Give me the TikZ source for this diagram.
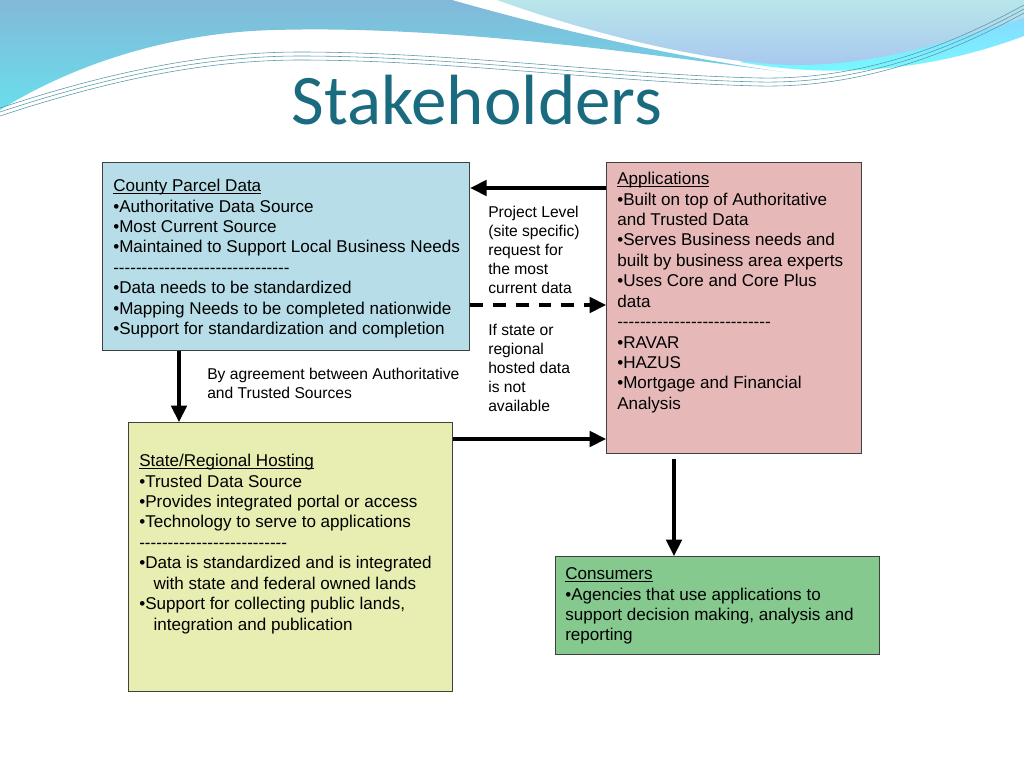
\documentclass[tikz,border=0pt]{standalone}
\usepackage{fontspec}
\setmainfont{Liberation Sans}
\newfontfamily\titlefont{Carlito}
\usetikzlibrary{arrows.meta,calc}
\newcommand\pxl{0.703125pt}
\newcommand\dashrow[1]{\foreach \i in {1,...,#1}{-\kern0pt}}
\newcommand\headline[1]{\underline{\smash{#1}}}
\definecolor{countyfill}{HTML}{B7DEE8}
\definecolor{appsfill}{HTML}{E6B9B8}
\definecolor{statefill}{HTML}{E8EDB1}
\definecolor{consfill}{HTML}{86C98E}
\definecolor{titleteal}{HTML}{1B6B80}
\definecolor{boxline}{HTML}{404040}
\definecolor{waveline}{HTML}{5A98A8}
\tikzset{
  box/.style={draw=boxline, line width=0.9pt, anchor=north west, inner sep=0pt},
  boxtext/.style={anchor=north west, inner sep=0pt, align=left,
    font=\fontsize{12}{14.37}\selectfont},
  note/.style={anchor=north west, inner sep=0pt, align=left,
    font=\fontsize{11}{13.4}\selectfont},
  arr/.style={line width=2.2pt, -{Triangle[length=11.5pt,width=11pt]}},
}
\begin{document}
\begin{tikzpicture}[x=\pxl, y=-\pxl]
  \useasboundingbox (0,0) rectangle (1024,768);
  \fill[white] (0,0) rectangle (1024,768);
  % header waves
  \shade[top color=cyan!60!blue!45, bottom color=cyan!55]
    (740,62) .. controls (860,84) and (960,60) .. (1024,36)
    -- (1024,0) -- (900,0) -- cycle;
  \shade[top color={rgb,255:red,130;green,185;blue,216}, bottom color={rgb,255:red,105;green,222;blue,236}]
    (0,0) -- (452,0) .. controls (540,25) and (660,55) .. (784,72)
    .. controls (650,55) and (450,25) .. (275,30)
    .. controls (180,32) and (80,60) .. (0,110) -- cycle;
  \shade[top color={rgb,255:red,185;green,230;blue,234}, bottom color={rgb,255:red,167;green,200;blue,238}]
    (497,0) -- (1024,0) -- (1024,18) .. controls (950,40) and (880,66) .. (790,65)
    .. controls (700,62) and (580,30) .. (497,0) -- cycle;
  \foreach \d in {0,4,8}
    \draw[waveline, line width=0.4pt]
      (0,108+\d) .. controls (100,75+\d) and (200,52+\d) .. (300,52+\d)
      .. controls (450,52+\d) and (620,75+\d) .. (760,78+\d)
      .. controls (870,80+\d) and (960,40+\d) .. (1024,5+\d);
  \node[font=\titlefont\fontsize{50}{60}\selectfont, text=titleteal, anchor=base]
    (title) at (477,125) {Stakeholders};
  % boxes
  \node[box, fill=countyfill, minimum width=367*\pxl, minimum height=188*\pxl] (county) at (102,162) {};
  \node[box, fill=appsfill, minimum width=255*\pxl, minimum height=291*\pxl] (apps) at (606,162) {};
  \node[box, fill=statefill, minimum width=324*\pxl, minimum height=269*\pxl] (state) at (128,422) {};
  \node[box, fill=consfill, minimum width=324*\pxl, minimum height=98*\pxl] (cons) at (555,556) {};
  \node[boxtext] (countytxt) at (113,177) {\strut\headline{County Parcel Data}\\
    •Authoritative Data Source\\
    •Most Current Source\\
    •Maintained to Support Local Business Needs\\
    \dashrow{31}\\
    •Data needs to be standardized\\
    •Mapping Needs to be completed nationwide\\
    •Support for standardization and completion};
  \node[boxtext] (appstxt) at (617,170) {\strut\headline{Applications}\\
    •Built on top of Authoritative\\
    and Trusted Data\\
    •Serves Business needs and\\
    built by business area experts\\
    •Uses Core and Core Plus\\
    data\\
    \dashrow{27}\\
    •RAVAR\\
    •HAZUS\\
    •Mortgage and Financial\\
    Analysis};
  \node[boxtext] (statetxt) at (139,452) {\strut\headline{State/Regional Hosting}\\
    •Trusted Data Source\\
    •Provides integrated portal or access\\
    •Technology to serve to applications\\
    \dashrow{26}\\
    •Data is standardized and is integrated\\
    \hspace*{10pt}with state and federal owned lands\\
    •Support for collecting public lands,\\
    \hspace*{10pt}integration and publication};
  \node[boxtext] (constxt) at (565,565) {\strut\headline{Consumers}\\
    •Agencies that use applications to\\
    support decision making, analysis and\\
    reporting};
  % labels
  \node[note] (reqlbl) at (488,204) {\strut Project Level\\(site specific)\\request for\\the most\\current data};
  \node[note] (falllbl) at (488,322) {\strut If state or\\regional\\hosted data\\is not\\available};
  \node[note] (agreelbl) at (207,366) {\strut By agreement between Authoritative\\and Trusted Sources};
  % connectors
  \coordinate (reqR) at ($(apps.north west)+(0,26)$);
  \coordinate (dashL) at ($(county.north east)+(0,143)$);
  \coordinate (hostL) at ($(state.north east)+(0,17)$);
  \coordinate (agreeT) at ($(county.south west)+(77,0)$);
  \coordinate (useT) at ($(apps.south west)+(68,5)$);
  \draw[arr] (reqR) -- (reqR -| county.east);
  \draw[arr, dash pattern=on 9pt off 7pt] (dashL) -- (dashL -| apps.west);
  \draw[arr] (hostL) -- (hostL -| apps.west);
  \draw[arr] (agreeT) -- (agreeT |- state.north);
  \draw[arr] (useT) -- (useT |- cons.north);
\end{tikzpicture}
\end{document}
